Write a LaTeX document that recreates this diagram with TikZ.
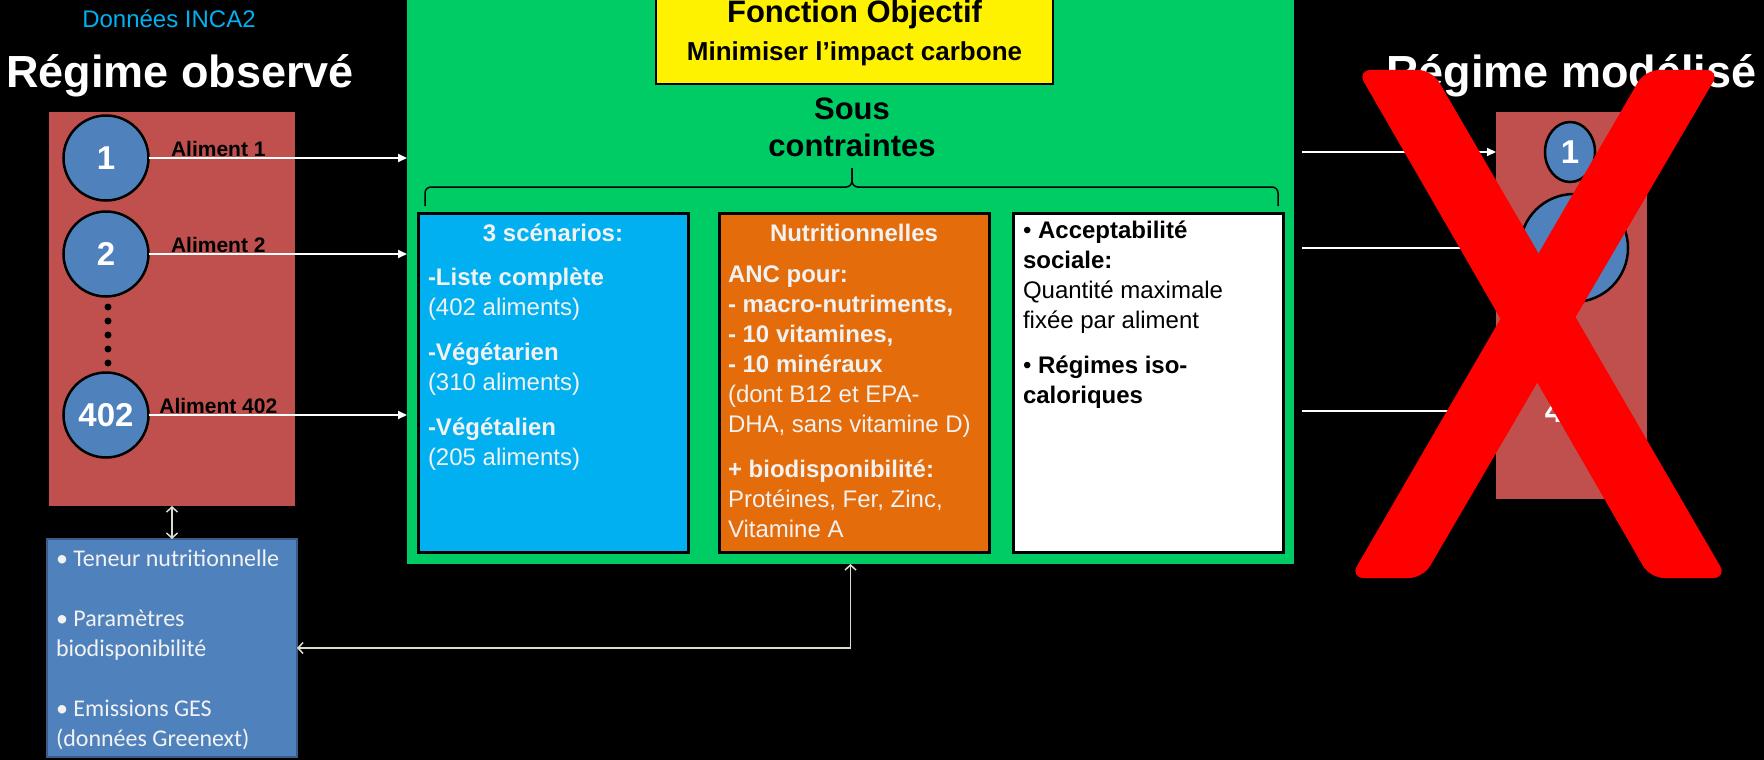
\documentclass[tikz,border=0pt]{standalone}
\usepackage{fontspec}
\setmainfont{Liberation Sans}
\newfontfamily\calibrifont{Carlito}
\usetikzlibrary{arrows.meta,shapes.geometric}

\definecolor{obsred}{HTML}{C0504D}
\definecolor{circblue}{HTML}{4F81BD}
\definecolor{databorder}{HTML}{385D8A}
\definecolor{solvergreen}{HTML}{00CC66}
\definecolor{scenblue}{HTML}{00B0F0}
\definecolor{nutriorange}{HTML}{E46C0A}
\definecolor{incablue}{HTML}{00B0F0}
\definecolor{lighttext}{HTML}{F2F2F2}
\definecolor{linkgray}{HTML}{DDDBD0}
\definecolor{xred}{HTML}{FF0000}

\begin{document}
\begin{tikzpicture}[
  x=1pt, y=-1pt,
  every node/.style={inner sep=0pt, outer sep=0pt},
  panel/.style={rectangle, draw=black, line width=3pt},
  food/.style={circle, draw=black, line width=2.5pt, fill=circblue, text=white,
    font=\fontsize{33}{33}\selectfont\bfseries},
  feed/.style={draw=white, line width=2pt, -{Triangle[length=9pt,width=8pt]}},
  link/.style={draw=linkgray, line width=1.5pt,
    {Straight Barb[length=5pt,width=11pt]}-{Straight Barb[length=5pt,width=11pt]}},
  bodytext/.style={anchor=base west, align=left, font=\fontsize{24}{30}\selectfont},
  heading/.style={anchor=base, text=white, font=\fontsize{45}{45}\selectfont\bfseries},
  aliment/.style={above=1pt, text=black, font=\fontsize{21}{21}\selectfont\bfseries}
]
\useasboundingbox (0,0) rectangle (1764,760);
\fill[black] (0,0) rectangle (1764,760);
\clip (0,0) rectangle (1764,760);

% optimisation block
\node[rectangle, fill=solvergreen, minimum width=887pt, minimum height=574pt] (green) at (850.5,277) {};
\node[rectangle, draw=black, line width=2pt, fill=yellow, minimum width=397pt, minimum height=94pt] (goal) at (854.5,37) {};
\node[anchor=base, font=\fontsize{31}{31}\selectfont\bfseries] (goaltitle) at (854.5,23) {Fonction Objectif};
\node[anchor=base, font=\fontsize{26}{26}\selectfont\bfseries] (goaltext) at (854.5,60) {Minimiser l’impact carbone};
\node[align=center, font=\fontsize{31}{37}\selectfont\bfseries] (under) at (852,127.5) {Sous\\contraintes};
\draw[line width=1.5pt, rounded corners=6pt] (425,206) -- (425,187) -- (852,187) -- (852,168);
\draw[line width=1.5pt, rounded corners=6pt] (852,168) -- (852,187) -- (1278,187) -- (1278,206);

\node[panel, fill=scenblue, minimum width=270pt, minimum height=339pt] (scen) at (553,382.5) {};
\node[panel, fill=nutriorange, minimum width=270pt, minimum height=339pt] (nutri) at (854,382.5) {};
\node[panel, fill=white, minimum width=270pt, minimum height=339pt] (accept) at (1148,382.5) {};

% lists are anchored on the baseline of their last line
\node[anchor=base, text=lighttext, font=\fontsize{24}{30}\selectfont\bfseries] (scentitle) at (553,241) {3 scénarios:};
\node[bodytext, text=lighttext] (scenlist) at (428,465)
  {\textbf{-Liste complète}\\(402 aliments)\\[15pt]\textbf{-Végétarien}\\(310 aliments)\\[15pt]\textbf{-Végétalien}\\(205 aliments)};
\node[anchor=base, text=lighttext, font=\fontsize{24}{30}\selectfont\bfseries] (nutrititle) at (854,241) {Nutritionnelles};
\node[bodytext, text=lighttext] (nutrilist) at (728,537)
  {\textbf{ANC pour:}\\\textbf{- macro-nutriments,}\\\textbf{- 10 vitamines,}\\\textbf{- 10 minéraux}\\(dont B12 et EPA-\\DHA, sans vitamine D)\\[15pt]\textbf{+ biodisponibilité:}\\Protéines, Fer, Zinc,\\Vitamine A};
\node[bodytext, text=black] (acceptlist) at (1023,403)
  {• \textbf{Acceptabilité}\\\textbf{sociale:}\\Quantité maximale\\fixée par aliment\\[15pt]• \textbf{Régimes iso-}\\\textbf{caloriques}};

% observed diet
\node[anchor=base, text=incablue, font=\fontsize{24}{24}\selectfont] (source) at (169,28) {Données INCA2};
\node[heading] (obstitle) at (180,87) {Régime observé};
\node[rectangle, fill=obsred, minimum width=246pt, minimum height=394pt] (obs) at (172,309) {};
\node[food, minimum size=85pt] (c1) at (106,158) {1};
\node[food, minimum size=85pt] (c2) at (106,254) {2};
\node[food, minimum size=85pt] (c402) at (106,415) {402};
\foreach \y in {307,321,335,349,363}
  \fill[black] (108,\y) circle (3.5pt);

\draw[feed] (c1) -- (c1 -| green.west) node[aliment, pos=.27] {Aliment 1};
\draw[feed] (c2) -- (c2 -| green.west) node[aliment, pos=.27] {Aliment 2};
\draw[feed] (c402) -- (c402 -| green.west) node[aliment, pos=.27] {Aliment 402};

\node[rectangle, draw=databorder, line width=1.5pt, fill=circblue, minimum width=250pt, minimum height=218pt] (data) at (172,648) {};
\node[anchor=base west, align=left, text=lighttext, font=\calibrifont\fontsize{24}{30}\selectfont] (datalist) at (56,746)
  {• Teneur nutritionnelle\\[30pt]• Paramètres\\biodisponibilité\\[30pt]• Emissions GES\\(données Greenext)};
\draw[link] (obs.south) -- (data.north);
\draw[link] (green.south) |- (data.east);

% modelled diet
\node[heading] (modtitle) at (1571.5,87) {Régime modélisé};
\node[rectangle, fill=obsred, minimum width=151pt, minimum height=387pt] (mod) at (1571.5,305.5) {};
\node[food, ellipse, minimum width=50pt, minimum height=60pt] (m1) at (1570,152) {1};
\node[food, minimum size=108pt] (m2) at (1574,248) {};
\node[anchor=base, text=white, font=\fontsize{33}{33}\selectfont\bfseries] (m4) at (1554,422) {4};
\draw[feed] ([xshift=8pt]green.east |- m1) -- (mod.west |- m1);
\draw[feed] ([xshift=8pt]green.east |- m2) -- (mod.west |- m2);
\draw[feed] ([xshift=8pt]green.east |- m4) -- (mod.west |- m4);

% cross
\fill[xred, rounded corners=14pt] (1357,70) -- (1432,70) -- (1727,578) -- (1650,578) -- cycle;
\fill[xred, rounded corners=14pt] (1645,70) -- (1720,70) -- (1423,578) -- (1350,578) -- cycle;
\end{tikzpicture}
\end{document}
